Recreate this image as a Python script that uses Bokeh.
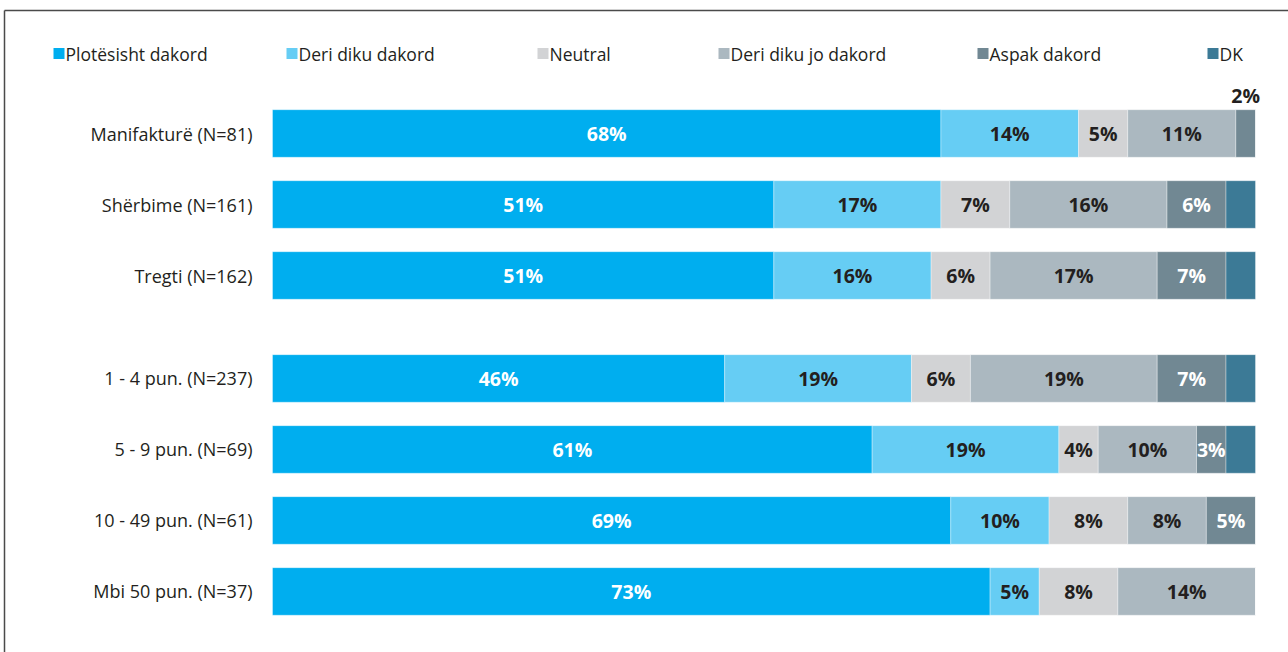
from bokeh.plotting import figure
from bokeh.models import Range1d, ColumnDataSource
from bokeh.core.properties import value
from bokeh.embed import file_html
from bokeh.resources import INLINE

# ---------------- data ----------------
categories = [
    "Manifakturë (N=81)",
    "Shërbime (N=161)",
    "Tregti (N=162)",
    "1 - 4 pun. (N=237)",
    "5 - 9 pun. (N=69)",
    "10 - 49 pun. (N=61)",
    "Mbi 50 pun. (N=37)",
]
series_names = ["Plotësisht dakord", "Deri diku dakord", "Neutral",
                "Deri diku jo dakord", "Aspak dakord", "DK"]
plotesisht = [68, 51, 51, 46, 61, 69, 73]
deri_diku = [14, 17, 16, 19, 19, 10, 5]
neutral = [5, 7, 6, 6, 4, 8, 8]
deri_diku_jo = [11, 16, 17, 19, 10, 8, 14]
aspak = [2, 6, 7, 7, 3, 5, 0]
dk = [0, 3, 3, 3, 3, 0, 0]
series_values = [plotesisht, deri_diku, neutral, deri_diku_jo, aspak, dk]

# ---------------- style ----------------
colors = ["#00AEEF", "#66CDF4", "#D2D3D5", "#ABB8C0", "#718893", "#3C7A96"]
label_colors = ["white", "#231F20", "#231F20", "#231F20", "white", None]
FONT = "Open Sans"

W, H = 1288, 652
BAR_LEFT_PX, BAR_RIGHT_PX = 272, 1255
ROW0_PX, ROW_STEP_PX = 133, 71
GROUP_GAP = 0.45  # extra row units between the two groups
BAR_H = 0.67

px_per_unit_x = (BAR_RIGHT_PX - BAR_LEFT_PX) / 100.0


def px_x(px):
    return (px - BAR_LEFT_PX) / px_per_unit_x


def px_y(py):
    return (py - ROW0_PX) / ROW_STEP_PX


p = figure(width=W, height=H, output_backend="svg", toolbar_location=None,
           x_range=Range1d(px_x(0), px_x(W)),
           y_range=Range1d(px_y(H), px_y(0)),
           min_border=0, min_border_left=0, min_border_right=0,
           min_border_top=0, min_border_bottom=0)
p.axis.visible = False
p.grid.visible = False
p.outline_line_color = None
p.background_fill_color = "white"
p.border_fill_color = "white"

# row positions (gap between the two groups)
ypos = [i + (GROUP_GAP if i >= 3 else 0) for i in range(len(categories))]

# stacked bars
left = [0.0] * len(categories)
for s, vals in enumerate(series_values):
    total = [sum(series_values[k][i] for k in range(len(series_values))) for i in range(len(categories))]
    lefts = list(left)
    rights = [lefts[i] + vals[i] * 100.0 / total[i] for i in range(len(categories))]
    src = ColumnDataSource(dict(y=ypos, left=lefts, right=rights))
    p.hbar(y="y", left="left", right="right", height=BAR_H, source=src,
           fill_color=colors[s], line_color="white", line_alpha=0.35, line_width=1)
    # labels
    if label_colors[s] is not None:
        inside_x, inside_y, inside_t = [], [], []
        above_x, above_y, above_t = [], [], []
        for i in range(len(categories)):
            v = vals[i]
            if v <= 0:
                continue
            cx = (lefts[i] + rights[i]) / 2
            if v <= 2:
                above_x.append(cx)
                above_y.append(ypos[i] - BAR_H / 2)
                above_t.append(f"{v}%")
            else:
                inside_x.append(cx)
                inside_y.append(ypos[i])
                inside_t.append(f"{v}%")
        p.text(x=inside_x, y=inside_y, text=inside_t, text_align="center",
               text_baseline="middle", text_color=label_colors[s],
               text_font=value(FONT), text_font_style="bold", text_font_size="19.5px")
        if above_x:
            p.text(x=above_x, y=above_y, text=above_t, text_align="center",
                   text_baseline="bottom", text_color="#231F20", y_offset=-1,
                   text_font=value(FONT), text_font_style="bold", text_font_size="19.5px")
    left = rights

# category labels
p.text(x=[px_x(252)] * len(categories), y=ypos, text=categories,
       text_align="right", text_baseline="middle", text_color="#231F20",
       text_font=value(FONT), text_font_size="18px")

# legend (manual, placed like the reference)
legend_px = [53, 286, 537, 718, 977, 1207]
sq = 11
leg_y = px_y(53)
p.rect(x=[px_x(x + sq / 2) for x in legend_px], y=[leg_y] * 6,
       width=sq / px_per_unit_x, height=sq / ROW_STEP_PX,
       fill_color=colors, line_color=None)
p.text(x=[px_x(x + sq + 1) for x in legend_px], y=[leg_y] * 6, text=series_names,
       text_align="left", text_baseline="middle", text_color="#231F20",
       text_font=value(FONT), text_font_size="17.5px")

# outer frame lines (top and left)
p.line(x=[px_x(4), px_x(W)], y=[px_y(10), px_y(10)], line_color="#4A4A4A", line_width=1.5)
p.line(x=[px_x(4), px_x(4)], y=[px_y(10), px_y(H)], line_color="#4A4A4A", line_width=1.5)

open("out.html", "w").write(file_html(p, INLINE))
